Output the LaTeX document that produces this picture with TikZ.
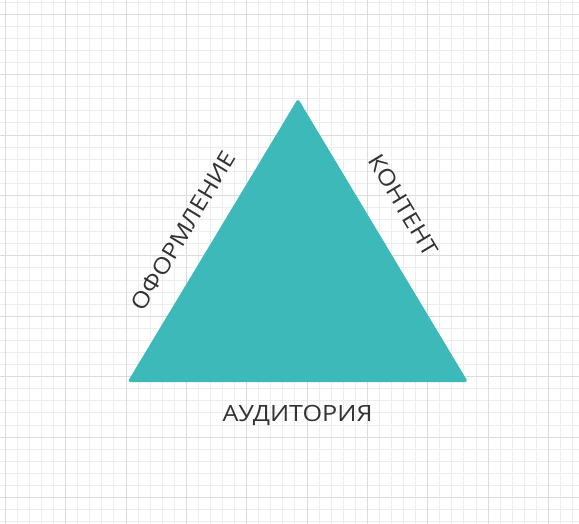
\documentclass[tikz,border=0pt]{standalone}
\usepackage{fontspec}
\newfontfamily\lblfont{Open Sans}
\usepackage{graphicx}
\definecolor{teal1}{RGB}{62,185,185}
\definecolor{gridminor}{RGB}{237,237,237}
\definecolor{gridmajor}{RGB}{220,220,220}
\definecolor{textgray}{RGB}{51,51,51}
\newlength\audw
\newlength\caph
\tikzset{
  minorline/.style={draw=gridminor, line width=1pt},
  majorline/.style={draw=gridmajor, line width=1pt},
  lbl/.style={text=textgray, inner sep=0pt, anchor=base, font=\lblfont\fontsize{20}{24}\selectfont},
  trifill/.style={fill=teal1, rounded corners=3pt}
}
\begin{document}
\settowidth\audw{\lblfont\fontsize{20}{24}\selectfont АУДИТОРИЯ}%
\settoheight\caph{\lblfont\fontsize{20}{24}\selectfont Н}%
\pgfmathsetmacro\fx{150/\the\audw}%
\pgfmathsetmacro\fy{16/\the\caph}%
\begin{tikzpicture}[x=1pt, y=-1pt]
  \useasboundingbox (0,0) rectangle (579,524);
  \fill[white] (0,0) rectangle (579,524);
  % grid
  \foreach \i in {0,...,47} {
    \pgfmathsetmacro\xx{5.3+12.07*\i}
    \draw[minorline] (\xx,0) -- (\xx,524);
  }
  \foreach \j in {0,...,43} {
    \pgfmathsetmacro\yy{2.2+12.08*\j}
    \draw[minorline] (0,\yy) -- (579,\yy);
  }
  \foreach \i in {0,5,...,45} {
    \pgfmathsetmacro\xx{5.3+12.07*\i}
    \draw[majorline] (\xx,0) -- (\xx,524);
  }
  \foreach \j in {1,6,...,41} {
    \pgfmathsetmacro\yy{2.2+12.08*\j}
    \draw[majorline] (0,\yy) -- (579,\yy);
  }
  % triangle
  \coordinate (apex) at (298,98.5);
  \coordinate (bl) at (127.5,382);
  \coordinate (br) at (468,382);
  \path[trifill] (apex) -- (br) -- (bl) -- cycle;
  % labels
  \node[lbl, rotate=59] (design) at (190.3,234.9) {\scalebox{\fx}[\fy]{ОФОРМЛЕНИЕ}};
  \node[lbl, rotate=-59] (content) at (396.7,209.6) {\scalebox{\fx}[\fy]{КОНТЕНТ}};
  \node[lbl] (audience) at (297.5,421) {\scalebox{\fx}[\fy]{АУДИТОРИЯ}};
\end{tikzpicture}
\end{document}
